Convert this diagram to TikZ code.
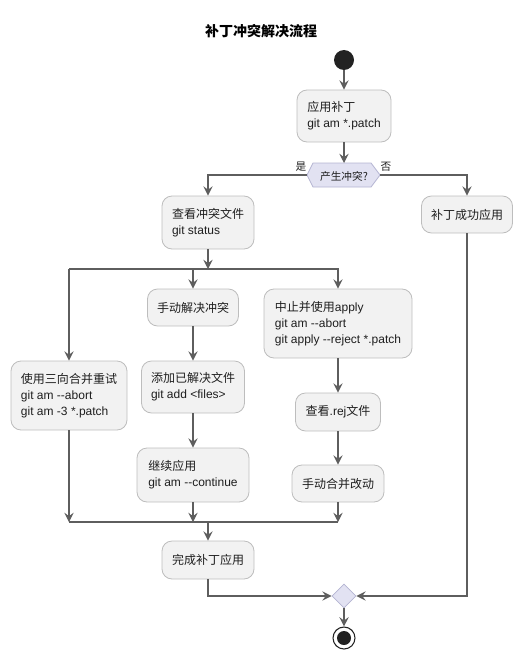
\documentclass[tikz,border=0pt]{standalone}
\usepackage{fontspec}
\setmainfont{Liberation Sans}
\newfontfamily\cjk{Noto Sans CJK SC}
\usetikzlibrary{arrows.meta,shapes.geometric}
\definecolor{ln}{HTML}{5E5E5E}
\definecolor{bd}{HTML}{BDBDBD}
\definecolor{bf}{HTML}{F2F2F2}
\definecolor{tx}{HTML}{1E1E1E}
\definecolor{df}{HTML}{E2E2F2}
\definecolor{dbd}{HTML}{B4B4D2}
\definecolor{blk}{HTML}{222222}
\newcommand\dd{-\kern0pt-}
\begin{document}
\begin{tikzpicture}[x=0.75pt,y=-0.75pt,
  act/.style={draw=bd, fill=bf, rounded corners=7.5pt, line width=0.6pt, inner xsep=3pt, inner ysep=0pt,
    font=\fontsize{9}{12}\selectfont, text=tx, align=left},
  flow/.style={draw=ln, line width=0.8pt, -{Stealth[length=7pt,width=7pt,inset=2.6pt]}},
  plain/.style={draw=ln, line width=0.8pt},
  bar/.style={draw=ln, line width=1.6pt},
  lbl/.style={font=\fontsize{8}{10}\selectfont, text=tx, inner sep=0pt}]
\useasboundingbox (0,0) rectangle (523,660);

\node[font=\fontsize{10.5}{12}\selectfont, text=black, inner sep=0pt] (title) at (261,31) {\cjk\bfseries 补丁冲突解决流程};

\node[circle, fill=blk, minimum size=15pt, inner sep=0pt] (start) at (344,60) {};

\node[act, minimum width=70.5pt, minimum height=39pt] (apply) at (344,116) {{\cjk 应用补丁}\\git am *.patch};

% decision hexagon
\coordinate (decL) at (307,175);
\coordinate (decR) at (380,175);
\coordinate (decT) at (344,163);
\filldraw[fill=df, draw=dbd, line width=0.6pt] (307,175) -- (313,163) -- (371,163) -- (380,175) -- (371,187) -- (313,187) -- cycle;
\node[lbl] (dec) at (344,176) {\cjk 产生冲突?};
\node[lbl] (yes) at (301,167) {\cjk 是};
\node[lbl] (no) at (386,167) {\cjk 否};

\node[act, minimum width=69pt, minimum height=39.75pt] (check) at (208,222.5) {{\cjk 查看冲突文件}\\git status};
\node[act, minimum width=68.25pt, minimum height=27.75pt, align=center] (success) at (467,214.5) {\cjk 补丁成功应用};

\coordinate (forkL) at (69,269);
\coordinate (forkR) at (339,269);
\coordinate (fork) at (208,269);

\node[act, minimum width=87pt, minimum height=51.75pt] (b1) at (69,395.5) {{\cjk 使用三向合并重试}\\git am \dd abort\\git am -3 *.patch};

\node[act, minimum width=68.25pt, minimum height=27.75pt, align=center] (b2a) at (193,307.5) {\cjk 手动解决冲突};
\node[act, minimum width=77.25pt, minimum height=39pt] (b2b) at (193,387) {{\cjk 添加已解决文件}\\git add <files>};
\node[act, minimum width=84pt, minimum height=40.5pt] (b2c) at (193,475) {{\cjk 继续应用}\\git am \dd continue};

\node[act, minimum width=111pt, minimum height=51.75pt] (b3a) at (338,323.5) {{\cjk 中止并使用}apply\\git am \dd abort\\git apply \dd reject *.patch};
\node[act, minimum width=63.75pt, minimum height=28.5pt, align=center] (b3b) at (338,412) {{\cjk 查看}.rej{\cjk 文件}};
\node[act, minimum width=69pt, minimum height=27.75pt, align=center] (b3c) at (338,483.5) {\cjk 手动合并改动};

\coordinate (joinL) at (69,522);
\coordinate (joinR) at (338,522);
\coordinate (join) at (208,522);

\node[act, minimum width=69pt, minimum height=28.5pt, align=center] (done) at (208,560) {\cjk 完成补丁应用};

\node[diamond, aspect=1, fill=df, draw=dbd, line width=0.6pt, minimum width=18pt, minimum height=18pt, inner sep=0pt] (merge) at (344,596) {};

\node[circle, draw=blk, fill=white, line width=0.8pt, minimum size=16.5pt, inner sep=0pt] (end) at (344,638) {};
\fill[blk] (end.center) circle (5.25pt);

% connectors
\draw[flow] (start) -- (apply);
\draw[flow] (apply) -- (decT);
\draw[flow] (decL) -| (check.north);
\draw[flow] (decR) -| (success.north);
\draw[flow] (check) -- (fork);
\draw[bar] (forkL) -- (forkR);
\draw[flow] (b1.north |- forkL) -- (b1);
\draw[flow] (b2a.north |- forkL) -- (b2a);
\draw[flow] (b3a.north |- forkL) -- (b3a);
\draw[flow] (b2a) -- (b2b);
\draw[flow] (b2b) -- (b2c);
\draw[flow] (b3a) -- (b3b);
\draw[flow] (b3b) -- (b3c);
\draw[flow] (b1) -- (b1 |- joinL);
\draw[flow] (b2c) -- (b2c |- joinL);
\draw[flow] (b3c) -- (b3c |- joinL);
\draw[bar] (joinL) -- (joinR);
\draw[flow] (join) -- (done);
\draw[flow] (done.south) |- (merge.west);
\draw[flow] (success.south) |- (merge.east);
\draw[flow] (merge) -- (end);
\end{tikzpicture}
\end{document}
